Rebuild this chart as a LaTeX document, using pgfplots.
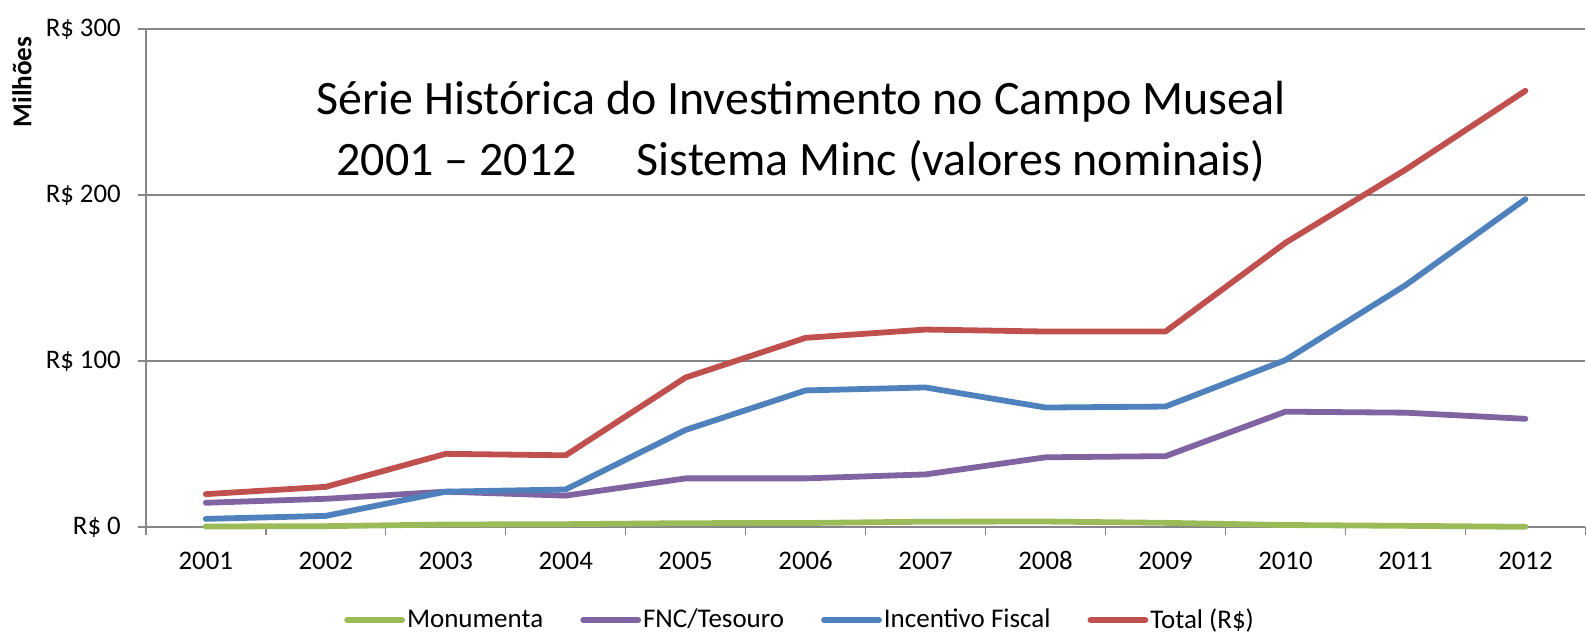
\documentclass[border=0pt]{standalone}
\usepackage{pgfplots}
\pgfplotsset{compat=1.18}
\usepackage{pgfplotstable}
\usepackage{fontspec}
\setmainfont{Carlito}
\definecolor{cgreen}{HTML}{9BBB59}
\definecolor{cpurple}{HTML}{8064A2}
\definecolor{cblue}{HTML}{4F81BD}
\definecolor{cred}{HTML}{C0504D}
\definecolor{gridgray}{HTML}{878787}
\pgfplotstableread{
x monumenta fnc incentivo total
0 0.3 14.6 4.9 19.8
1 0.5 17.0 6.7 24.2
2 1.5 21.3 21.3 44.1
3 1.7 18.9 22.6 43.2
4 2.3 29.3 58.5 90.1
5 2.4 29.3 82.3 114.0
6 3.2 31.7 84.1 119.0
7 3.3 42.0 72.0 117.8
8 2.5 42.7 72.6 117.8
9 1.2 69.5 100.6 171.3
10 0.7 68.9 145.7 215.3
11 0.1 65.2 197.6 262.9
}\datatable
\begin{document}
\begin{tikzpicture}
\useasboundingbox (0,0) rectangle (793.5pt,317pt);
\begin{axis}[
  at={(72.9pt,53.5pt)}, anchor=south west,
  scale only axis, width=719.8pt, height=248.9pt,
  xmin=-0.5, xmax=11.5, ymin=0, ymax=300,
  clip=false,
  axis x line*=bottom, axis y line*=left,
  axis line style={draw=gridgray, line width=0.75pt},
  xtick={0,...,11},
  xticklabels={2001,2002,2003,2004,2005,2006,2007,2008,2009,2010,2011,2012},
  minor xtick={-0.5,0.5,...,11.5},
  ytick={0,100,200,300},
  yticklabels={R\$ 0,R\$ 100,R\$ 200,R\$ 300},
  tick align=outside, major tick length=4pt, minor tick length=4pt,
  major x tick style={draw=none},
  minor x tick style={draw=gridgray, line width=0.75pt},
  ytick style={draw=gridgray, line width=0.75pt},
  ymajorgrids, major grid style={draw=gridgray, line width=0.75pt},
  tick label style={font=\fontsize{13.4}{16}\selectfont, text=black},
  yticklabel style={xshift=-5pt},
  xticklabel style={yshift=-4.5pt, text height=9pt, text depth=0pt},
  ylabel={Milhões},
  ylabel style={at={(axis description cs:-0.086,0.894)}, anchor=center, font=\bfseries\fontsize{13.6}{16}\selectfont},
  legend style={at={(axis description cs:0.4545,-0.187)}, anchor=center, draw=none, fill=none,
    legend columns=-1, font=\fontsize{13.5}{16}\selectfont,
    column sep=0pt, /tikz/every even column/.append style={column sep=17.5pt},
    nodes={inner xsep=1pt}},
  legend image code/.code={\draw[#1] (0pt,0pt) -- (27.5pt,0pt);},
  every axis plot/.append style={line width=2.9pt, line cap=round, line join=round},
]
\addplot[cgreen] table[x=x, y=monumenta] {\datatable};
\addlegendentry{Monumenta}
\addplot[cpurple] table[x=x, y=fnc] {\datatable};
\addlegendentry{FNC/Tesouro}
\addplot[cblue] table[x=x, y=incentivo] {\datatable};
\addlegendentry{Incentivo Fiscal}
\addplot[cred] table[x=x, y=total] {\datatable};
\addlegendentry{Total (R\$)}
\node[align=center, font=\fontsize{24}{30.5}\selectfont] at (axis description cs:0.455,0.795)
  {Série Histórica do Investimento no Campo Museal\\2001 – 2012\hspace{30pt}Sistema Minc (valores nominais)};
\end{axis}
\end{tikzpicture}
\end{document}
